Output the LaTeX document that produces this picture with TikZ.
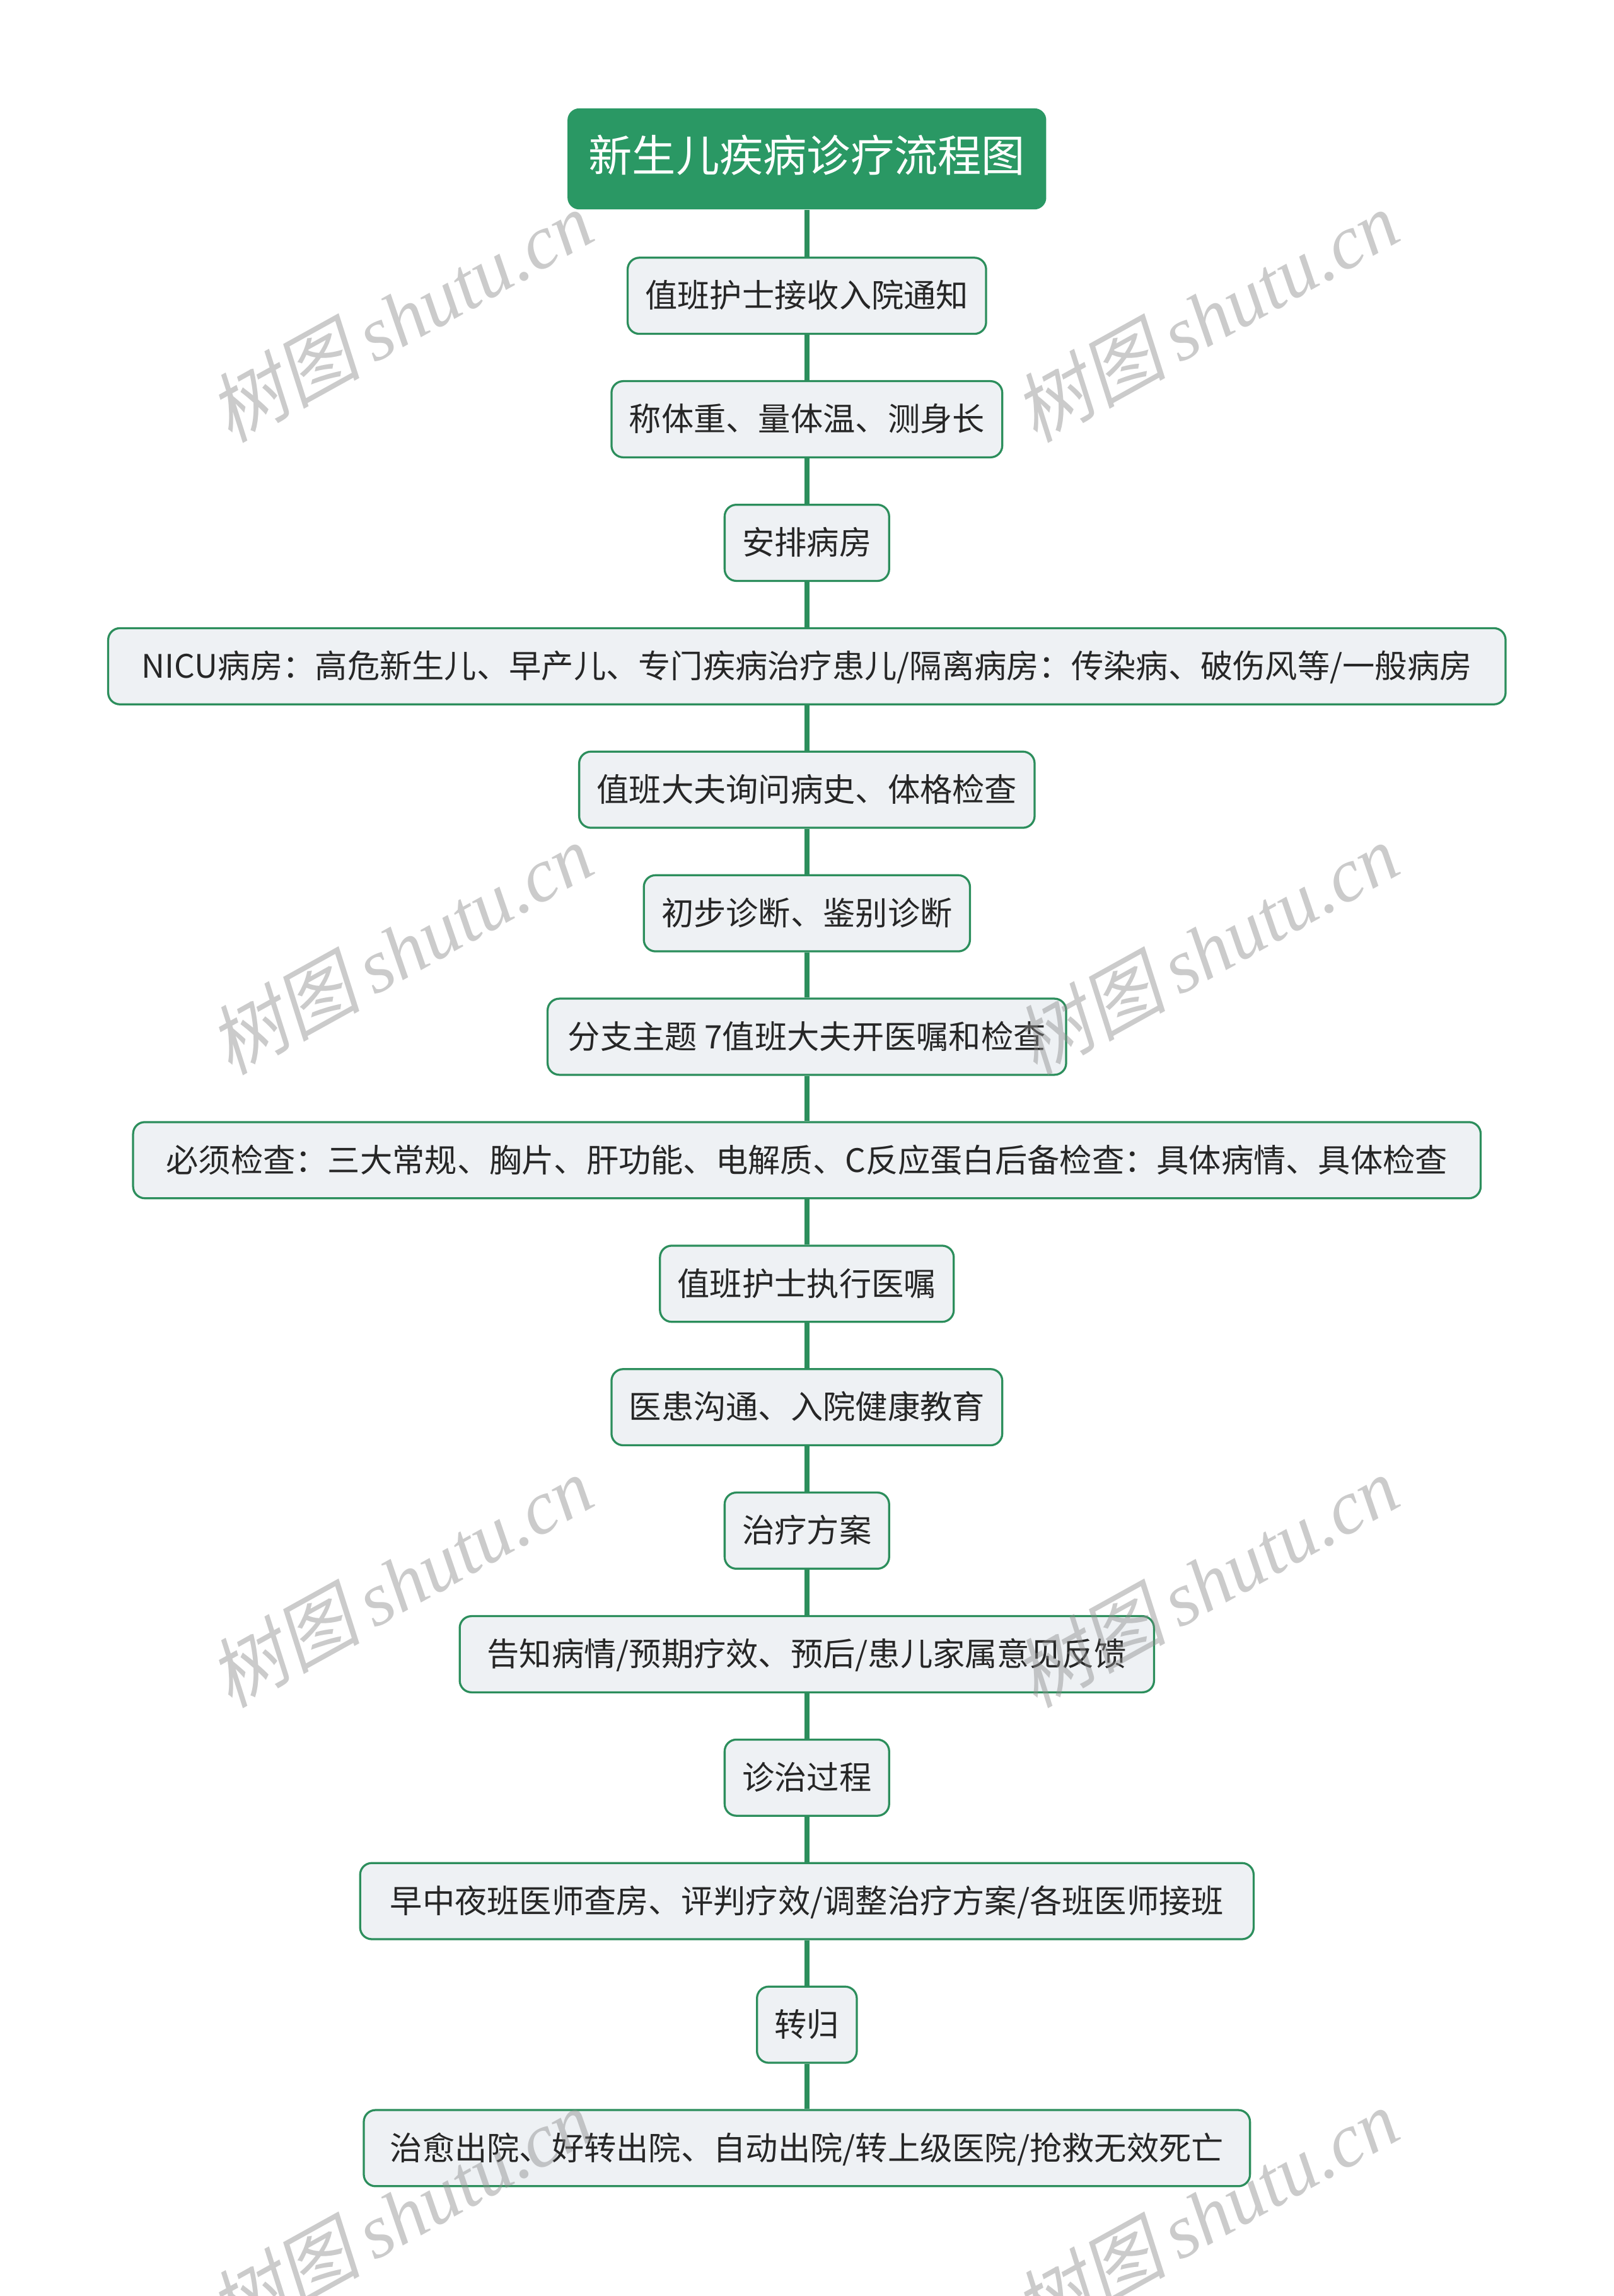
\documentclass[tikz,border=0pt]{standalone}
\usepackage{fontspec}
\setmainfont{Noto Sans CJK SC}
\newfontfamily\wmcjk[FakeSlant=0.2]{Noto Sans CJK SC}
\newfontfamily\wmlatin{Liberation Serif}
\usepackage{xcolor}
\usepackage{tikz}
\definecolor{trunkgreen}{RGB}{44,142,92}
\definecolor{titlegreen}{RGB}{42,152,100}
\definecolor{boxfill}{RGB}{238,241,244}
\definecolor{boxtext}{RGB}{38,38,38}

\begin{document}
\begin{tikzpicture}[x=0.025cm,y=-0.025cm,
    stepbox/.style={draw=trunkgreen, line width=1pt, fill=boxfill,
        rounded corners=0.2cm, minimum height=1.3cm, inner xsep=0.3cm,
        text=boxtext, text height=1.15em, text depth=0em,
        font=\fontsize{15.7pt}{19pt}\selectfont},
    titlebox/.style={fill=titlegreen, rounded corners=0.2cm,
        minimum height=1.725cm, inner xsep=0.36cm, text=white,
        text height=1.25em, text depth=0em,
        font=\fontsize{21.2pt}{25pt}\selectfont},
    trunk/.style={trunkgreen, line width=2.4pt},
    watermark/.style={anchor=base west, rotate=29, inner sep=0pt,
        text=black!45, text opacity=0.45}]
    \useasboundingbox (0,0) rectangle (1102,1568);

    \node[titlebox] (title) at (551,108.5) {新生儿疾病诊疗流程图};
    \node[stepbox] (notice) at (551,202) {值班护士接收入院通知};
    \node[stepbox] (measure) at (551,286.3) {称体重、量体温、测身长};
    \node[stepbox] (ward) at (551,370.7) {安排病房};
    \node[stepbox, minimum width=23.85cm] (wardtype) at (551,455)
        {NICU病房：高危新生儿、早产儿、专门疾病治疗患儿/隔离病房：传染病、破伤风等/一般病房};
    \node[stepbox] (history) at (551,539.3) {值班大夫询问病史、体格检查};
    \node[stepbox] (diagnose) at (551,623.7) {初步诊断、鉴别诊断};
    \node[stepbox, minimum width=8.85cm] (orders) at (551,708)
        {分支主题 7值班大夫开医嘱和检查};
    \node[stepbox, minimum width=23cm] (checks) at (551,792.3)
        {必须检查：三大常规、胸片、肝功能、电解质、C反应蛋白后备检查：具体病情、具体检查};
    \node[stepbox] (execute) at (551,876.7) {值班护士执行医嘱};
    \node[stepbox] (educate) at (551,961) {医患沟通、入院健康教育};
    \node[stepbox] (plan) at (551,1045.3) {治疗方案};
    \node[stepbox, minimum width=11.85cm] (inform) at (551,1129.7)
        {告知病情/预期疗效、预后/患儿家属意见反馈};
    \node[stepbox] (course) at (551,1214) {诊治过程};
    \node[stepbox, minimum width=15.25cm] (rounds) at (551,1298.3)
        {早中夜班医师查房、评判疗效/调整治疗方案/各班医师接班};
    \node[stepbox] (outcome) at (551,1382.7) {转归};
    \node[stepbox, minimum width=15.125cm] (discharge) at (551,1467)
        {治愈出院、好转出院、自动出院/转上级医院/抢救无效死亡};

    \foreach \a/\b in {title/notice, notice/measure, measure/ward,
        ward/wardtype, wardtype/history, history/diagnose,
        diagnose/orders, orders/checks, checks/execute,
        execute/educate, educate/plan, plan/inform, inform/course,
        course/rounds, rounds/outcome, outcome/discharge}
        \draw[trunk] (\a) -- (\b);

    \foreach \wx in {157,707}
        \foreach \wy in {303,735,1167,1599}
            \node[watermark] (wm-\wx-\wy) at (\wx,\wy)
                {\fontsize{37pt}{37pt}\selectfont\wmcjk 树图\,\wmlatin\itshape shutu.cn};
\end{tikzpicture}
\end{document}
